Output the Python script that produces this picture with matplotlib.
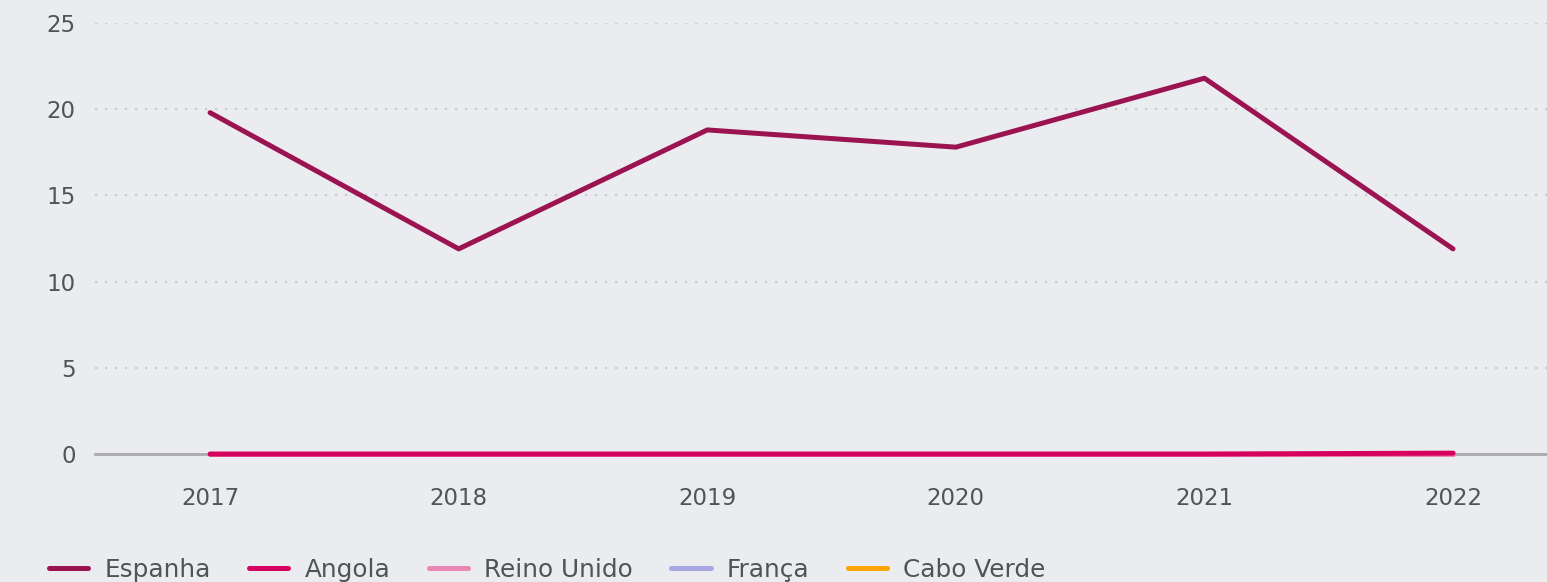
import numpy as np
import matplotlib.pyplot as plt

# ------------------------------
# Data
# ------------------------------
years = [2017, 2018, 2019, 2020, 2021, 2022]
espanha = [19.8, 11.9, 18.8, 17.8, 21.8, 11.9]
angola = [0, 0, 0, 0, 0, 0.05]
reino_unido = [0, 0, 0, 0, 0, 0]
franca = [0, 0, 0, 0, 0, 0]
cabo_verde = [0, 0, 0, 0, 0, 0]

series = [
    ('Espanha', espanha, '#9b1451'),
    ('Angola', angola, '#d6005f'),
    ('Reino Unido', reino_unido, '#ea86b2'),
    ('França', franca, '#a9a7e2'),
    ('Cabo Verde', cabo_verde, '#ffa300'),
]

bg = '#ebecf0'
text_color = '#505456'
plt.rcParams['font.family'] = ['DejaVu Sans']

fig = plt.figure(figsize=(15.47, 5.82), dpi=100, facecolor=bg)
ax = fig.add_axes([0.0614, 0.2199, 0.9386, 0.7405], facecolor=bg)

# grid and baseline
for v in [5, 10, 15, 20, 25]:
    ax.axhline(v, color='#c9cbd1', lw=1.6, ls=(0, (1, 3.5)), zorder=1)
ax.axhline(0, color='#aaaaaa', lw=2, zorder=1, clip_on=False)

# draw zero-valued series first so Espanha sits on top
handles = {}
for name, vals, col in reversed(series):
    h, = ax.plot(years, vals, color=col, lw=3.6, solid_capstyle='round',
                 solid_joinstyle='round', zorder=3, label=name, clip_on=False)
    handles[name] = h

ax.set_xlim(2016.537, 2022.378)
ax.set_ylim(0, 25)
ax.set_yticks([0, 5, 10, 15, 20, 25])
ax.set_xticks(years)
ax.tick_params(length=0, labelsize=16.5, labelcolor=text_color)
ax.tick_params(axis='x', pad=24)
ax.tick_params(axis='y', pad=14)
for s in ax.spines.values():
    s.set_visible(False)

fig.legend([handles[n] for n, _, _ in series], [n for n, _, _ in series],
           loc='center left', bbox_to_anchor=(0.017, 1 - 570 / 582),
           ncol=5, frameon=False, fontsize=17.8, labelcolor=text_color,
           handlelength=1.6, handletextpad=0.65, columnspacing=1.55)

fig.savefig('out.png', dpi=100, facecolor=bg)
